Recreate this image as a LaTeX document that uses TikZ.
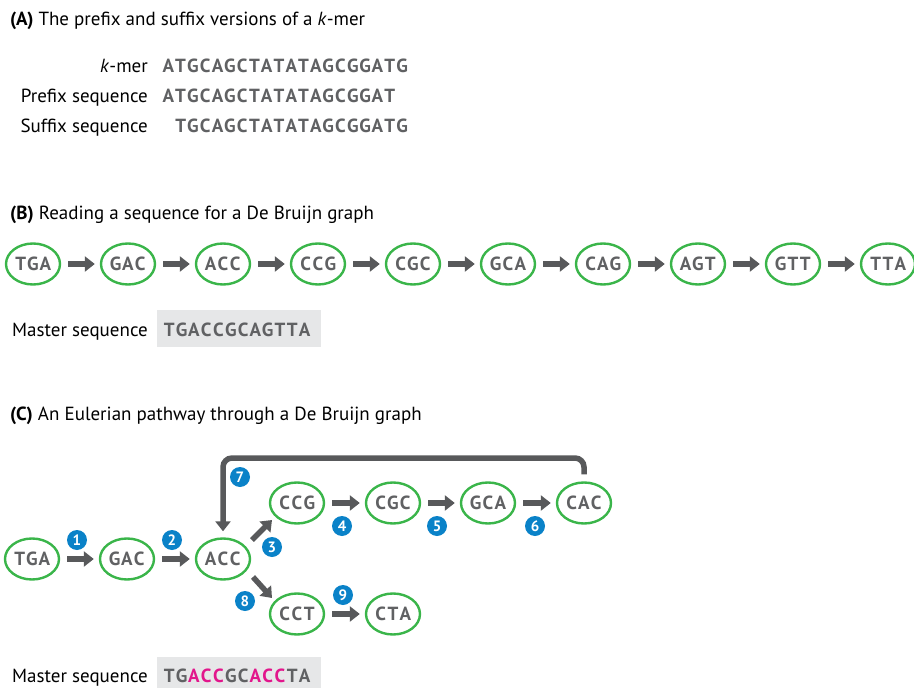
\documentclass[tikz,border=0pt]{standalone}
\usepackage{fontspec}
\setmainfont{PT Sans}
\newfontfamily\seqfont{PT Sans}
\usetikzlibrary{shapes.geometric,arrows.meta,calc}
\definecolor{kgreen}{HTML}{3AB54A}
\definecolor{agray}{HTML}{58595B}
\definecolor{sgray}{HTML}{606163}
\definecolor{bblue}{HTML}{0A82C8}
\definecolor{mpink}{HTML}{E2168C}
\definecolor{boxgray}{HTML}{E6E7E8}
\newcommand\lblsize{\fontsize{19}{22}\selectfont}
\newcommand\seqsize{\seqfont\bfseries\fontsize{19}{22}\selectfont}
\newcommand\sqb[1]{\makebox[12.3pt]{#1}}
\def\sqloop#1{\ifx#1\relax\else\sqb{#1}\expandafter\sqloop\fi}
\newcommand\sq[1]{{\seqsize\sqloop#1\relax}}
\begin{document}
\begin{tikzpicture}[x=1pt,y=-1pt,
  kmer/.style={ellipse, draw=kgreen, line width=2.4pt, minimum width=54pt, minimum height=41pt, inner sep=0pt, text=sgray},
  arr/.style={draw=agray, line width=5.5pt, -{Triangle[length=10pt,width=15pt]}, shorten <=7pt, shorten >=5pt},
  badge/.style={circle, fill=bblue, text=white, inner sep=0pt, minimum size=20pt, font=\bfseries\fontsize{15}{15}\selectfont},
  lbl/.style={anchor=base east, inner sep=0pt, font=\lblsize},
  ttl/.style={anchor=base west, inner sep=0pt, font=\lblsize},
  seqtxt/.style={anchor=base west, inner sep=0pt, text=sgray}
]
\useasboundingbox (0,0) rectangle (914,688);

% ---------- (A)
\node[ttl] (tA) at (10,25) {\textbf{(A)}\ The prefix and suffix versions of a \textit{k}-mer};
\node[lbl] (l1) at (148,72) {\textit{k}-mer};
\node[lbl] (l2) at (148,102) {Prefix sequence};
\node[lbl] (l3) at (148,132) {Suffix sequence};
\node[seqtxt] (s1) at (162,72) {\sq{ATGCAGCTATATAGCGGATG}};
\node[seqtxt] (s2) at (162,102) {\sq{ATGCAGCTATATAGCGGAT}};
\node[seqtxt] (s3) at (174.3,132) {\sq{TGCAGCTATATAGCGGATG}};

% ---------- (B)
\node[ttl] (tB) at (10,219) {\textbf{(B)}\ Reading a sequence for a De Bruijn graph};
\node[kmer] (b1) at (33,264) {\sq{TGA}};
\node[kmer] (b2) at (128,264) {\sq{GAC}};
\node[kmer] (b3) at (223,264) {\sq{ACC}};
\node[kmer] (b4) at (318,264) {\sq{CCG}};
\node[kmer] (b5) at (413,264) {\sq{CGC}};
\node[kmer] (b6) at (508,264) {\sq{GCA}};
\node[kmer] (b7) at (603,264) {\sq{CAG}};
\node[kmer] (b8) at (698,264) {\sq{AGT}};
\node[kmer] (b9) at (793,264) {\sq{GTT}};
\node[kmer] (b10) at (888,264) {\sq{TTA}};
\foreach \a/\b in {b1/b2,b2/b3,b3/b4,b4/b5,b5/b6,b6/b7,b7/b8,b8/b9,b9/b10}
  \draw[arr] (\a) -- (\b);
\node[lbl] (mB) at (148,336) {Master sequence};
\node[fill=boxgray, minimum width=164pt, minimum height=37pt, inner sep=0pt] (boxB) at (239,328.5) {};
\node[seqtxt] (sB) at (163,336) {\sq{TGACCGCAGTTA}};

% ---------- (C)
\node[ttl] (tC) at (10,420) {\textbf{(C)}\ An Eulerian pathway through a De Bruijn graph};
\node[kmer] (c1) at (32,559) {\sq{TGA}};
\node[kmer] (c2) at (127,559) {\sq{GAC}};
\node[kmer] (c3) at (223,559) {\sq{ACC}};
\node[kmer] (c4) at (297,503) {\sq{CCG}};
\node[kmer] (c5) at (393,503) {\sq{CGC}};
\node[kmer] (c6) at (488,503) {\sq{GCA}};
\node[kmer] (c7) at (584,503) {\sq{CAC}};
\node[kmer] (c8) at (297,614) {\sq{CCT}};
\node[kmer] (c9) at (393,614) {\sq{CTA}};
\draw[arr] (c1) -- (c2);
\draw[arr] (c2) -- (c3);
\draw[arr, shorten <=0pt, shorten >=0pt] ([shift={(29,-19)}]c3.center) -- ([shift={(-25,17)}]c4.center);
\draw[arr] (c4) -- (c5);
\draw[arr] (c5) -- (c6);
\draw[arr] (c6) -- (c7);
\coordinate (top) at (400,458);
\draw[arr, rounded corners=9pt, shorten <=7pt, shorten >=6pt] (c7.north) |- (top) -| (c3.north);
\draw[arr, shorten <=0pt, shorten >=0pt] ([shift={(30,18)}]c3.center) -- ([shift={(-25,-16)}]c8.center);
\draw[arr] (c8) -- (c9);
\node[badge] (n1) at (77,540) {1};
\node[badge] (n2) at (172,540) {2};
\node[badge] (n3) at (272,547) {3};
\node[badge] (n4) at (342,526) {4};
\node[badge] (n5) at (437,526) {5};
\node[badge] (n6) at (535,526) {6};
\node[badge] (n7) at (240,477) {7};
\node[badge] (n8) at (245,601) {8};
\node[badge] (n9) at (343,595) {9};
\node[lbl] (mC) at (148,682) {Master sequence};
\node[fill=boxgray, minimum width=164pt, minimum height=34pt, inner sep=0pt] (boxC) at (239,674) {};
\node[seqtxt] (sC) at (163,682) {{\seqsize\sqb{T}\sqb{G}\color{mpink}\sqb{A}\sqb{C}\sqb{C}\color{sgray}\sqb{G}\sqb{C}\color{mpink}\sqb{A}\sqb{C}\sqb{C}\color{sgray}\sqb{T}\sqb{A}}};
\end{tikzpicture}
\end{document}
